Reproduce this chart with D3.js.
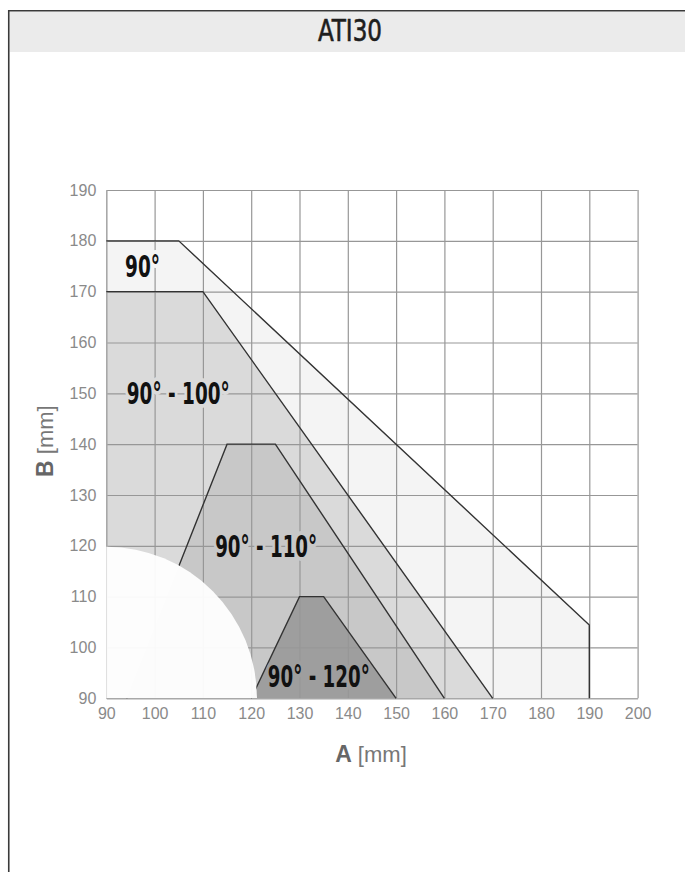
<!DOCTYPE html>
<html>
<head>
<meta charset="utf-8">
<script src="https://cdn.jsdelivr.net/npm/d3@7"></script>
<style>
body { margin: 0; background: #fff; }
.narrow { font-family: 'Liberation Sans Narrow', 'DejaVu Sans Condensed', 'DejaVu Sans', sans-serif; font-stretch: condensed; }
</style>
</head>
<body>
<svg></svg>
<script>
var screen = {width: 685, height: 872};
var margins = {top: 190, right: 47.4, bottom: 173.7, left: 106.3};

// tick values (A = horizontal, B = vertical, both in mm)
var aTicks = [90, 100, 110, 120, 130, 140, 150, 160, 170, 180, 190, 200];
var bTicks = [90, 100, 110, 120, 130, 140, 150, 160, 170, 180, 190];

// outline of each bending zone [A, B]
var zone90  = [[90, 180], [105, 180], [190, 104.4], [190, 90]];
var zone100 = [[90, 170], [110, 170], [170, 90]];
var zone110 = [[94.2, 90], [115, 140], [125, 140], [160, 90]];
var zone120 = [[120, 90], [130, 110], [135, 110], [150, 90]];

var zoneNames = ["90°", "90° - 100°", "90° - 110°", "90° - 120°"];
var zoneLabelAt = [[97.5, 175.0], [104.9, 150.1], [123.1, 120.0], [134.0, 94.4]];

// white keep-out quarter circle in the corner
var keepOutA = 121.2;
var keepOutB = 119.8;

var zoneColors = ["#f4f4f4", "#dadada", "#c8c8c8", "#9e9e9e"];
var labelWidths = [35, 103, 102, 102];

var setup = function()
{
    var svg = d3.select("svg")
        .attr("width", screen.width)
        .attr("height", screen.height)
        .style("display", "block");

    // frame + title band
    svg.append("rect")
        .attr("x", 9.5).attr("y", 11.5)
        .attr("width", screen.width).attr("height", 40.5)
        .attr("fill", "#ebebeb");
    svg.append("path")
        .attr("d", "M8.75," + screen.height + "V10.75H" + screen.width)
        .attr("fill", "none")
        .attr("stroke", "#3a3a3a")
        .attr("stroke-width", 1.6);
    svg.append("text")
        .attr("class", "narrow")
        .attr("x", 350).attr("y", 41)
        .attr("text-anchor", "middle")
        .attr("textLength", 64)
        .attr("lengthAdjust", "spacingAndGlyphs")
        .style("font-size", "30px")
        .attr("fill", "#1e1e1e")
        .attr("stroke", "#1e1e1e")
        .attr("stroke-width", 0.6)
        .text("ATI30");

    var width = screen.width - margins.left - margins.right;
    var height = screen.height - margins.top - margins.bottom;

    var xScale = d3.scaleLinear().domain([90, 200]).range([0, width]);
    var yScale = d3.scaleLinear().domain([90, 190]).range([height, 0]);

    var graph = svg.append("g")
        .attr("id", "graph")
        .attr("transform", "translate(" + margins.left + "," + margins.top + ")");

    drawZones(graph, xScale, yScale, width, height);
}

var drawZones = function(graph, xScale, yScale, width, height)
{
    var zones = [zone90, zone100, zone110, zone120];
    var line = d3.line()
        .x(function(d){ return xScale(d[0]); })
        .y(function(d){ return yScale(d[1]); });

    // fills
    graph.append("g").selectAll("path")
        .data(zones)
        .enter()
        .append("path")
        .attr("d", function(d){ return line(d.concat([[90, 90]])) + "Z"; })
        .attr("fill", function(d, i){ return zoneColors[i]; });

    // grid
    var gx = graph.append("g")
        .attr("transform", "translate(0," + height + ")")
        .call(d3.axisBottom(xScale).tickValues(aTicks.slice(1)).tickSize(-height).tickFormat(""));
    var gy = graph.append("g")
        .call(d3.axisLeft(yScale).tickValues(bTicks.slice(1)).tickSize(-width).tickFormat(""));
    [gx, gy].forEach(function(g){
        g.select(".domain").remove();
        g.selectAll("line").attr("stroke", "#979797").attr("stroke-width", 1.2);
    });

    // left axis line (goes under the keep-out corner)
    var leftLine = graph.append("g")
        .call(d3.axisLeft(yScale).tickValues([]).tickSize(0));
    leftLine.select(".domain").attr("stroke", "#a8a8a8").attr("stroke-width", 1.6);

    // keep-out quarter
    var rx = xScale(keepOutA) - xScale(90);
    var ry = yScale(90) - yScale(keepOutB);
    var quarter = "M" + xScale(90) + "," + yScale(90) +
        "V" + yScale(keepOutB) +
        "A" + rx + "," + ry + " 0 0 1 " + xScale(keepOutA) + "," + yScale(90) + "Z";
    graph.append("path")
        .attr("d", quarter)
        .attr("fill", "#fff")
        .attr("opacity", 0.94);

    var xAxis = graph.append("g")
        .attr("transform", "translate(0," + height + ")")
        .call(d3.axisBottom(xScale).tickValues(aTicks).tickSize(0).tickPadding(9));
    var yAxis = graph.append("g")
        .call(d3.axisLeft(yScale).tickValues(bTicks).tickSize(0).tickPadding(10));
    yAxis.select(".domain").remove();

    xAxis.select(".domain").attr("stroke", "#a8a8a8").attr("stroke-width", 1.6);
    [xAxis, yAxis].forEach(function(g){
        g.selectAll("text")
            .attr("fill", "#8a8a8a")
            .style("font-family", "'Liberation Sans', Arial, sans-serif")
            .style("font-size", "16px");
    });

    // outlines, hidden under the keep-out corner
    var mask = graph.append("defs").append("mask")
        .attr("id", "keepout")
        .attr("maskUnits", "userSpaceOnUse");
    mask.append("rect")
        .attr("x", -50).attr("y", -50)
        .attr("width", width + 100).attr("height", height + 100)
        .attr("fill", "#fff");
    mask.append("path")
        .attr("d", quarter)
        .attr("fill", "#000");

    graph.append("g")
        .attr("mask", "url(#keepout)")
        .selectAll("path")
        .data(zones)
        .enter()
        .append("path")
        .attr("d", function(d){ return line(d); })
        .attr("fill", "none")
        .attr("stroke", "#333")
        .attr("stroke-width", 1.4);

    // zone labels with a halo that cuts the grid
    graph.append("g").selectAll("text")
        .data(zoneNames)
        .enter()
        .append("text")
        .attr("class", "narrow")
        .attr("x", function(d, i){ return xScale(zoneLabelAt[i][0]); })
        .attr("y", function(d, i){ return yScale(zoneLabelAt[i][1]); })
        .attr("dy", "0.36em")
        .attr("text-anchor", "middle")
        .attr("textLength", function(d, i){ return labelWidths[i]; })
        .attr("lengthAdjust", "spacingAndGlyphs")
        .style("font-weight", "bold")
        .style("font-size", "30px")
        .style("paint-order", "stroke")
        .attr("stroke", function(d, i){ return zoneColors[i]; })
        .attr("stroke-width", 8)
        .attr("stroke-linejoin", "round")
        .attr("fill", "#111")
        .text(function(d){ return d; });

    // axis titles
    var aTitle = d3.select("svg").append("text")
        .attr("x", margins.left + width / 2 - 1)
        .attr("y", 762)
        .attr("text-anchor", "middle")
        .style("font-family", "'Liberation Sans', Arial, sans-serif")
        .style("font-size", "22px");
    aTitle.append("tspan").attr("fill", "#666").style("font-weight", "bold").style("font-size", "23px").text("A");
    aTitle.append("tspan").attr("fill", "#777").text(" [mm]");

    var bTitle = d3.select("svg").append("text")
        .attr("transform", "translate(53," + (margins.top + height / 2 - 3) + ") rotate(-90)")
        .attr("text-anchor", "middle")
        .style("font-family", "'Liberation Sans', Arial, sans-serif")
        .style("font-size", "22px");
    bTitle.append("tspan").attr("fill", "#666").style("font-weight", "bold").style("font-size", "23px").text("B");
    bTitle.append("tspan").attr("fill", "#777").text(" [mm]");
}

setup();
</script>
</body>
</html>
